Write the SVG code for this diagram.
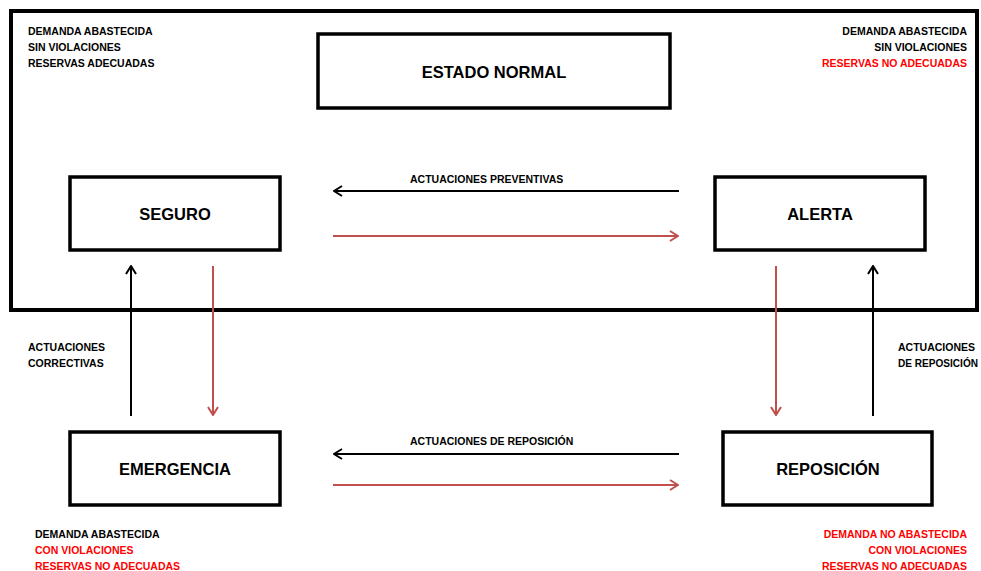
<svg xmlns="http://www.w3.org/2000/svg" width="981" height="571" viewBox="0 0 981 571">
  <style>
    .frame { fill: none; stroke: #000; stroke-width: 4; }
    .box { fill: #fff; stroke: #000; stroke-width: 3.5; }
    .title { font-family: "Liberation Sans", Arial, sans-serif; font-weight: bold; font-size: 16.5px; fill: #000; text-anchor: middle; }
    .note { font-family: "Liberation Sans", Arial, sans-serif; font-weight: bold; font-size: 10.5px; fill: #000; }
    .red { fill: #ff0000; }
    .end { text-anchor: end; }
    .blk { stroke: #000; stroke-width: 2; fill: none; }
    .rd { stroke: #c0504d; stroke-width: 2; fill: none; }
  </style>
  <defs>
    <marker id="hb" viewBox="0 0 10 12" refX="9" refY="6" markerWidth="10" markerHeight="12" markerUnits="userSpaceOnUse" orient="auto">
      <polyline points="1,1 9,6 1,11" fill="none" stroke="#000" stroke-width="2"/>
    </marker>
    <marker id="hr" viewBox="0 0 10 12" refX="9" refY="6" markerWidth="10" markerHeight="12" markerUnits="userSpaceOnUse" orient="auto">
      <polyline points="1,1 9,6 1,11" fill="none" stroke="#c0504d" stroke-width="2"/>
    </marker>
  </defs>

  <rect class="frame" x="11" y="11" width="966" height="299"/>

  <g id="normal">
    <rect class="box" x="318" y="34" width="352" height="74"/>
    <text class="title" x="494" y="78">ESTADO NORMAL</text>
  </g>
  <g id="seguro">
    <rect class="box" x="70" y="177" width="210" height="73"/>
    <text class="title" x="175" y="220">SEGURO</text>
  </g>
  <g id="alerta">
    <rect class="box" x="715" y="177" width="210" height="73"/>
    <text class="title" x="820" y="220">ALERTA</text>
  </g>
  <g id="emergencia">
    <rect class="box" x="70" y="432" width="210" height="73"/>
    <text class="title" x="175" y="475">EMERGENCIA</text>
  </g>
  <g id="reposicion">
    <rect class="box" x="723" y="432" width="209" height="73"/>
    <text class="title" x="828" y="475">REPOSICIÓN</text>
  </g>

  <g id="connectors">
    <line class="blk" x1="679" y1="191" x2="334" y2="191" marker-end="url(#hb)"/>
    <line class="rd" x1="333" y1="236" x2="678" y2="236" marker-end="url(#hr)"/>
    <line class="blk" x1="679" y1="454" x2="334" y2="454" marker-end="url(#hb)"/>
    <line class="rd" x1="333" y1="485" x2="678" y2="485" marker-end="url(#hr)"/>
    <line class="blk" x1="131" y1="416" x2="131" y2="266" marker-end="url(#hb)"/>
    <line class="rd" x1="213" y1="266" x2="213" y2="415" marker-end="url(#hr)"/>
    <line class="rd" x1="776" y1="266" x2="776" y2="415" marker-end="url(#hr)"/>
    <line class="blk" x1="873" y1="416" x2="873" y2="266" marker-end="url(#hb)"/>
  </g>

  <g id="labels">
    <text class="note" x="410" y="183">ACTUACIONES PREVENTIVAS</text>
    <text class="note" x="410" y="445">ACTUACIONES DE REPOSICIÓN</text>
    <text class="note" x="28" y="351">ACTUACIONES</text>
    <text class="note" x="28" y="367">CORRECTIVAS</text>
    <text class="note" x="898" y="351">ACTUACIONES</text>
    <text class="note" x="898" y="367" textLength="80" lengthAdjust="spacingAndGlyphs">DE REPOSICIÓN</text>
  </g>

  <g id="notes">
    <text class="note" x="28" y="35">DEMANDA ABASTECIDA</text>
    <text class="note" x="28" y="51">SIN VIOLACIONES</text>
    <text class="note" x="28" y="67">RESERVAS ADECUADAS</text>

    <text class="note end" x="967" y="35">DEMANDA ABASTECIDA</text>
    <text class="note end" x="967" y="51">SIN VIOLACIONES</text>
    <text class="note end red" x="967" y="67">RESERVAS NO ADECUADAS</text>

    <text class="note" x="35" y="538">DEMANDA ABASTECIDA</text>
    <text class="note red" x="35" y="554">CON VIOLACIONES</text>
    <text class="note red" x="35" y="570">RESERVAS NO ADECUADAS</text>

    <text class="note end red" x="967" y="538">DEMANDA NO ABASTECIDA</text>
    <text class="note end red" x="967" y="554">CON VIOLACIONES</text>
    <text class="note end red" x="967" y="570">RESERVAS NO ADECUADAS</text>
  </g>
</svg>
